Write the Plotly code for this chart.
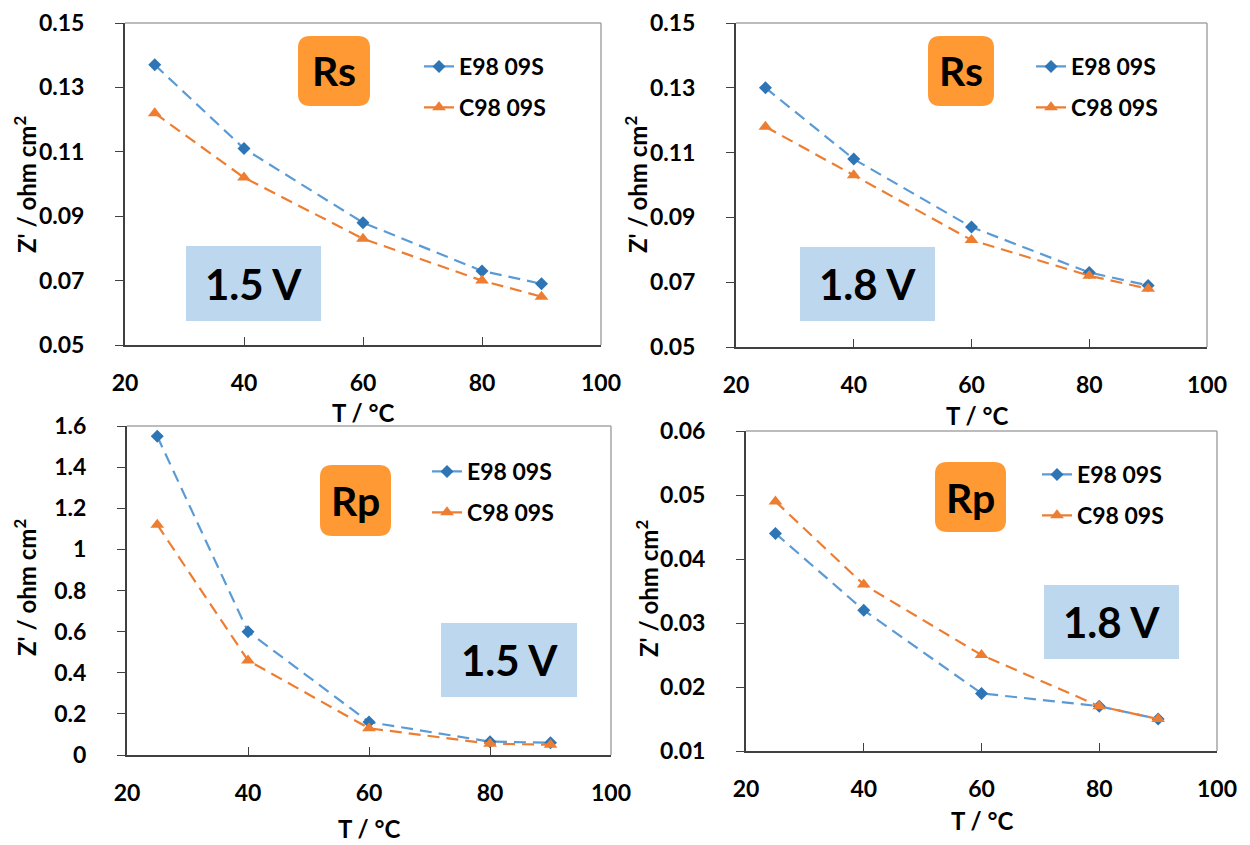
import plotly.graph_objects as go

# Temperature points (°C)
temperature = [25, 40, 60, 80, 90]

# Series resistance Rs (ohm cm²)
rs_15_e98 = [0.137, 0.111, 0.088, 0.073, 0.069]
rs_15_c98 = [0.122, 0.102, 0.083, 0.070, 0.065]
rs_18_e98 = [0.130, 0.108, 0.087, 0.073, 0.069]
rs_18_c98 = [0.118, 0.103, 0.083, 0.072, 0.068]

# Polarisation resistance Rp (ohm cm²)
rp_15_e98 = [1.55, 0.60, 0.16, 0.065, 0.06]
rp_15_c98 = [1.12, 0.46, 0.13, 0.055, 0.05]
rp_18_e98 = [0.044, 0.032, 0.019, 0.017, 0.015]
rp_18_c98 = [0.049, 0.036, 0.025, 0.017, 0.015]

series_names = ["E98 09S", "C98 09S"]

W, H = 1250, 845
FONT = "Lato"
BLUE_LINE = "#5b9bd5"
BLUE_MARK = "#2e75b6"
ORANGE = "#ed7d31"
BOX_ORANGE = "#ff9933"
BOX_BLUE = "#bdd7ee"


def px(x):
    return x / W


def py(y):
    return 1 - y / H


# Panel definitions: plot-area pixel box, y-range, y-ticks, data, labels
panels = [
    dict(box=(125, 23, 601, 345), yr=(0.05, 0.15), dtick=0.02, fmt=".2f",
         e=rs_15_e98, c=rs_15_c98, tag="Rs", volt="1.5 V",
         tagbox=(298, 36, 370, 106), voltbox=(186, 246, 321, 321),
         legend_xy=(419, 45), ytitle=(25, 185), xtitle=(363, 413)),
    dict(box=(736, 23, 1207, 347), yr=(0.05, 0.15), dtick=0.02, fmt=".2f",
         e=rs_18_e98, c=rs_18_c98, tag="Rs", volt="1.8 V",
         tagbox=(928, 36, 994, 106), voltbox=(800, 247, 935, 321),
         legend_xy=(1031, 45), ytitle=(636, 185), xtitle=(977, 415)),
    dict(box=(127, 426, 611, 755), yr=(0, 1.6), dtick=0.2, fmt="",
         e=rp_15_e98, c=rp_15_c98, tag="Rp", volt="1.5 V",
         tagbox=(320, 465, 391, 536), voltbox=(441, 623, 577, 697),
         legend_xy=(427, 450), ytitle=(25, 588), xtitle=(369, 828)),
    dict(box=(746, 431, 1217, 751), yr=(0.01, 0.06), dtick=0.01, fmt=".2f",
         e=rp_18_e98, c=rp_18_c98, tag="Rp", volt="1.8 V",
         tagbox=(935, 462, 1006, 532), voltbox=(1044, 585, 1179, 659),
         legend_xy=(1037, 453), ytitle=(647, 588), xtitle=(982, 820)),
]


def rounded_rect(x0, y0, x1, y1, r):
    """SVG path in paper coordinates for a rounded rectangle given in pixels."""
    rx, ry = r / W, r / H
    X0, X1 = px(x0), px(x1)
    Y0, Y1 = py(y0), py(y1)  # Y0 is the top (larger paper value)
    return (f"M {X0+rx},{Y0} L {X1-rx},{Y0} Q {X1},{Y0} {X1},{Y0-ry} "
            f"L {X1},{Y1+ry} Q {X1},{Y1} {X1-rx},{Y1} "
            f"L {X0+rx},{Y1} Q {X0},{Y1} {X0},{Y1+ry} "
            f"L {X0},{Y0-ry} Q {X0},{Y0} {X0+rx},{Y0} Z")


fig = go.Figure()
shapes, annotations = [], []

for i, p in enumerate(panels, start=1):
    sfx = "" if i == 1 else str(i)
    xa, ya = f"x{sfx}", f"y{sfx}"
    leg = "legend" if i == 1 else f"legend{i}"
    x0, y0, x1, y1 = p["box"]

    fig.add_trace(go.Scatter(
        x=temperature, y=p["e"], name=series_names[0], xaxis=xa, yaxis=ya,
        mode="lines+markers", legend=leg, legendgroup=f"e{i}",
        line=dict(color=BLUE_LINE, width=2.2, dash="12px,7px"),
        marker=dict(symbol="diamond", size=10, color=BLUE_MARK),
    ))
    fig.add_trace(go.Scatter(
        x=temperature, y=p["c"], name=series_names[1], xaxis=xa, yaxis=ya,
        mode="lines+markers", legend=leg, legendgroup=f"c{i}",
        line=dict(color=ORANGE, width=2.2, dash="12px,7px"),
        marker=dict(symbol="triangle-up", size=12, color=ORANGE),
    ))

    axis_font = dict(family=FONT, size=23, color="#000000", weight="bold")
    fig.layout[f"xaxis{sfx}"] = dict(
        domain=[px(x0), px(x1)], anchor=ya, range=[20, 100], dtick=20,
        tick0=20, showgrid=False, zeroline=False, showline=True,
        linecolor="#404040", linewidth=2, ticks="inside", ticklen=8,
        tickcolor="#404040", tickfont=axis_font, ticklabelstandoff=16,
        automargin=False,
    )
    fig.layout[f"yaxis{sfx}"] = dict(
        domain=[py(y1), py(y0)], anchor=xa, range=list(p["yr"]),
        dtick=p["dtick"], tick0=p["yr"][0], tickformat=p["fmt"],
        showgrid=False, zeroline=False, showline=True,
        linecolor="#404040", linewidth=2, ticks="outside", ticklen=8,
        tickcolor="#404040", tickfont=axis_font, ticklabelstandoff=26,
        automargin=False,
    )

    # light frame on top and right edges
    shapes.append(dict(type="line", xref="paper", yref="paper",
                       x0=px(x0), x1=px(x1), y0=py(y0), y1=py(y0),
                       line=dict(color="#a6a6a6", width=1.5)))
    shapes.append(dict(type="line", xref="paper", yref="paper",
                       x0=px(x1), x1=px(x1), y0=py(y0), y1=py(y1),
                       line=dict(color="#a6a6a6", width=1.5)))

    # orange tag box
    tx0, ty0, tx1, ty1 = p["tagbox"]
    shapes.append(dict(type="path", xref="paper", yref="paper",
                       path=rounded_rect(tx0, ty0, tx1, ty1, 12),
                       fillcolor=BOX_ORANGE, line=dict(width=0), layer="above"))
    annotations.append(dict(xref="paper", yref="paper",
                            x=px((tx0 + tx1) / 2), y=py((ty0 + ty1) / 2),
                            text=p["tag"], showarrow=False,
                            font=dict(family=FONT, size=41, color="#000000",
                                      weight="bold"),
                            xanchor="center", yanchor="middle"))

    # blue voltage box
    vx0, vy0, vx1, vy1 = p["voltbox"]
    shapes.append(dict(type="rect", xref="paper", yref="paper",
                       x0=px(vx0), x1=px(vx1), y0=py(vy1), y1=py(vy0),
                       fillcolor=BOX_BLUE, line=dict(width=0), layer="below"))
    annotations.append(dict(xref="paper", yref="paper",
                            x=px((vx0 + vx1) / 2), y=py((vy0 + vy1) / 2),
                            text=p["volt"], showarrow=False,
                            font=dict(family=FONT, size=42, color="#000000",
                                      weight="bold"),
                            xanchor="center", yanchor="middle"))

    # axis titles
    annotations.append(dict(xref="paper", yref="paper",
                            x=px(p["ytitle"][0]), y=py(p["ytitle"][1]),
                            text="Z' / ohm cm<sup>2</sup>", showarrow=False,
                            textangle=-90, xanchor="center", yanchor="middle",
                            font=dict(family=FONT, size=24, color="#000000",
                                      weight="bold")))
    annotations.append(dict(xref="paper", yref="paper",
                            x=px(p["xtitle"][0]), y=py(p["xtitle"][1]),
                            text="T / °C", showarrow=False,
                            xanchor="center", yanchor="middle",
                            font=dict(family=FONT, size=24, color="#000000",
                                      weight="bold")))

    lx, ly = p["legend_xy"]
    fig.layout[leg] = dict(
        x=px(lx), y=py(ly), xref="paper", yref="paper",
        xanchor="left", yanchor="top", bgcolor="rgba(0,0,0,0)",
        font=dict(family=FONT, size=23, color="#000000", weight="bold"),
        traceorder="grouped", tracegroupgap=8, itemwidth=30,
    )

fig.update_layout(
    width=W, height=H,
    margin=dict(l=0, r=0, t=0, b=0, pad=0, autoexpand=False),
    paper_bgcolor="white", plot_bgcolor="white",
    shapes=shapes, annotations=annotations, showlegend=True,
)

fig.write_html("out.html")
